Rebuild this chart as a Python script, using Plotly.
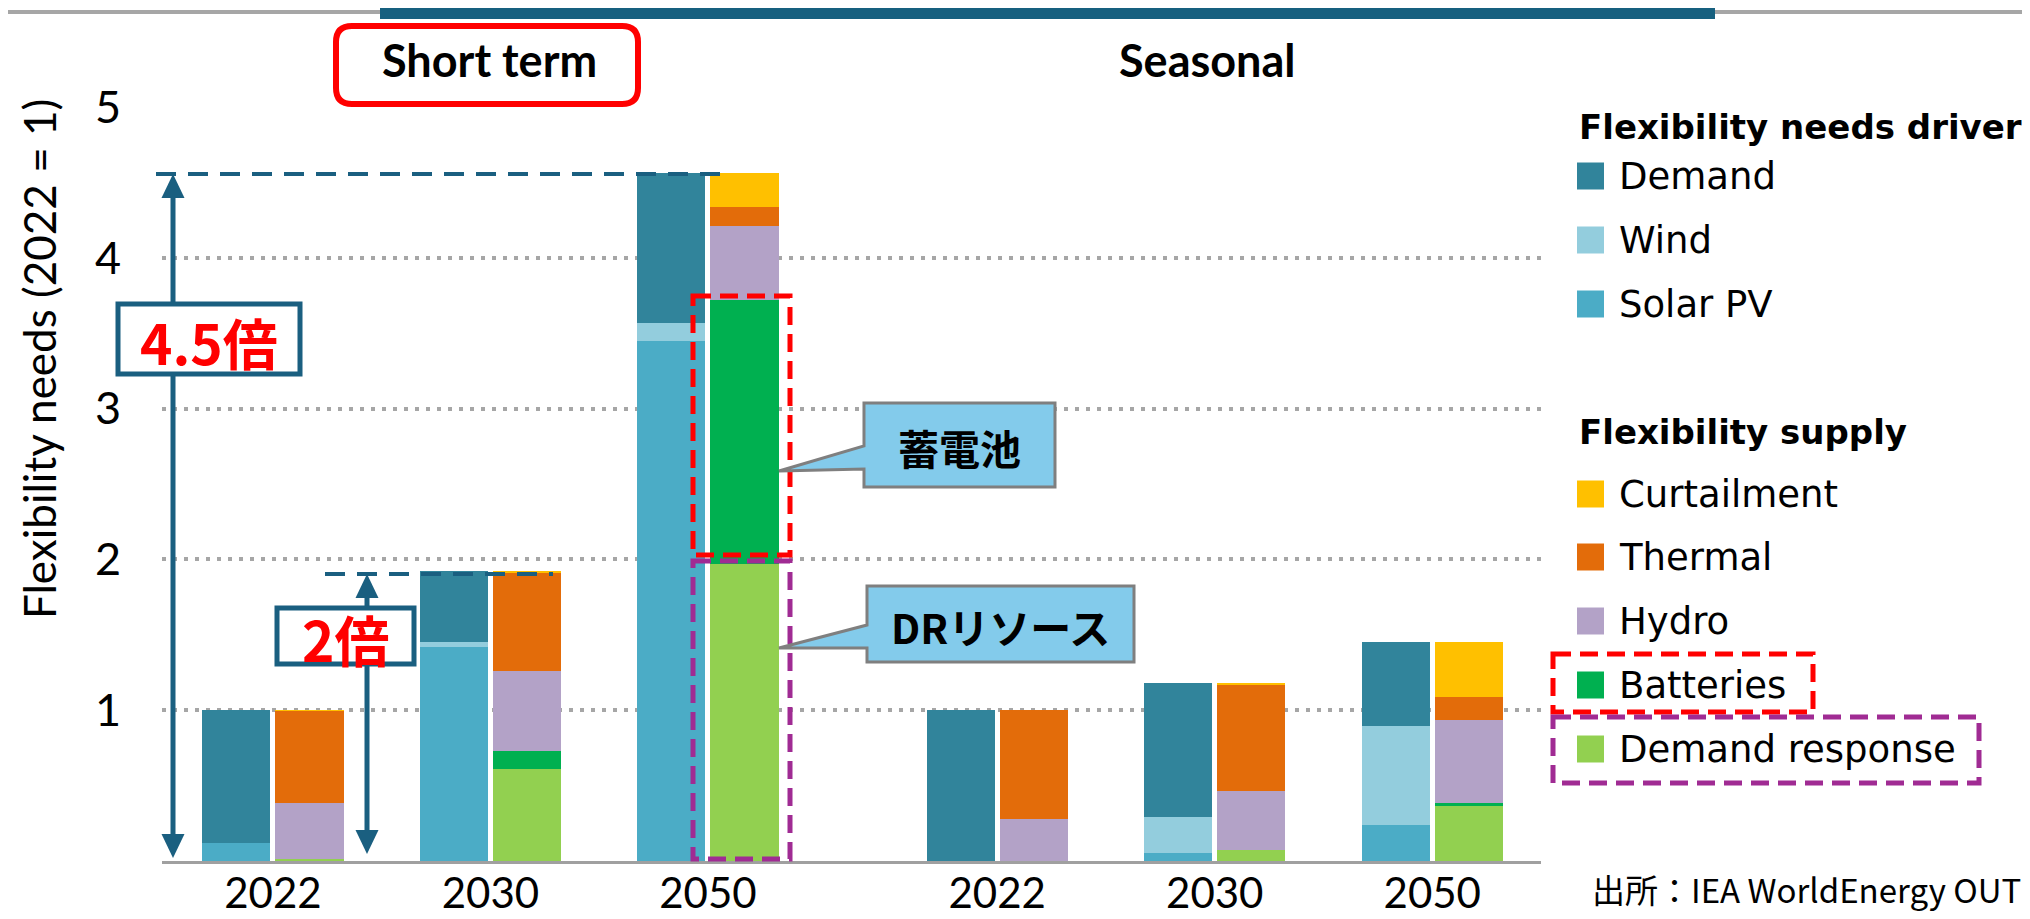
import plotly.graph_objects as go

# categories
HORIZONS = ["Short term", "Short term", "Short term", "Seasonal", "Seasonal", "Seasonal"]
YEARS = ["2022", "2030", "2050", "2022", "2030", "2050"]

# flexibility needs drivers (2022 = 1), stacked bottom -> top
SOLAR_PV = [0.12, 1.42, 3.45, 0.0, 0.055, 0.24]
WIND = [0.0, 0.03, 0.12, 0.0, 0.235, 0.655]
DEMAND = [0.88, 0.47, 0.99, 1.00, 0.89, 0.555]

# flexibility supply, stacked bottom -> top
DEMAND_RESPONSE = [0.01, 0.61, 1.97, 0.0, 0.07, 0.365]
BATTERIES = [0.0, 0.12, 1.75, 0.0, 0.0, 0.018]
HYDRO = [0.375, 0.53, 0.49, 0.28, 0.395, 0.55]
THERMAL = [0.61, 0.65, 0.125, 0.72, 0.70, 0.155]
CURTAILMENT = [0.005, 0.01, 0.225, 0.0, 0.015, 0.362]

Y_TICKS = [1, 2, 3, 4, 5]

COLORS = {
    'Demand': '#31849B',
    'Wind': '#93CDDD',
    'Solar PV': '#4BACC6',
    'Curtailment': '#FFC000',
    'Thermal': '#E36C0A',
    'Hydro': '#B3A2C7',
    'Batteries': '#00B050',
    'Demand response': '#92D050',
}
NAVY = '#1a5f80'

# page pixels; the page body adds an 8px margin, so the figure is shifted back by it
PAGE_W, PAGE_H = 2030, 919
OFS = 8
W, H = PAGE_W - OFS, PAGE_H - OFS
L, R, T, B = 162, 1541, 107, 861   # plot area in page pixels
GROUP_X = [0, 1, 2, 3.33, 4.33, 5.33]
X_RANGE = [-0.51, 5.83]
BAR_W = 0.313
OFF = 0.168


def px(x):
    return (x - L) / (R - L)


def py(y):
    return (B - y) / (B - T)


fig = go.Figure()

needs = [('Solar PV', SOLAR_PV), ('Wind', WIND), ('Demand', DEMAND)]
supply = [('Demand response', DEMAND_RESPONSE), ('Batteries', BATTERIES), ('Hydro', HYDRO),
          ('Thermal', THERMAL), ('Curtailment', CURTAILMENT)]

for name, vals in needs:
    fig.add_trace(go.Bar(
        x=[g - OFF for g in GROUP_X], y=vals, name=name, width=BAR_W,
        marker=dict(color=COLORS[name], line=dict(width=0)), showlegend=False
    ))
for name, vals in supply:
    fig.add_trace(go.Bar(
        x=[g + OFF for g in GROUP_X], y=vals, name=name, width=BAR_W,
        marker=dict(color=COLORS[name], line=dict(width=0)), showlegend=False
    ))

shapes = []
annotations = []


def rect(x0, y0, x1, y1, **kw):
    shapes.append(dict(type='rect', xref='paper', yref='paper',
                       x0=px(x0), x1=px(x1), y0=py(y0), y1=py(y1), **kw))


def line(x0, y0, x1, y1, **kw):
    shapes.append(dict(type='line', xref='paper', yref='paper',
                       x0=px(x0), x1=px(x1), y0=py(y0), y1=py(y1), **kw))


def poly(points, **kw):
    d = 'M ' + ' L '.join(f'{px(x):.5f},{py(y):.5f}' for x, y in points) + ' Z'
    shapes.append(dict(type='path', xref='paper', yref='paper', path=d, **kw))


def text(x, y, s, size, color='black', family='Lato', xanchor='center'):
    annotations.append(dict(x=px(x), y=py(y), xref='paper', yref='paper', text=s,
                            showarrow=False, xanchor=xanchor, yanchor='middle',
                            font=dict(size=size, color=color, family=family)))


# top banner
line(0, 12, PAGE_W + 10, 12, line=dict(color='#A6A6A6', width=4))
rect(380, -2, 1715, 19, fillcolor='#17607F', line=dict(width=0))

# section headers, red rounded box round "Short term"
r = 16
x0, x1, y0, y1 = 336, 638, 26, 104
P = lambda x, y: f'{px(x):.5f},{py(y):.5f}'
path = (f'M {P(x0 + r, y0)} L {P(x1 - r, y0)} Q {P(x1, y0)} {P(x1, y0 + r)} '
        f'L {P(x1, y1 - r)} Q {P(x1, y1)} {P(x1 - r, y1)} L {P(x0 + r, y1)} '
        f'Q {P(x0, y1)} {P(x0, y1 - r)} L {P(x0, y0 + r)} Q {P(x0, y0)} {P(x0 + r, y0)} Z')
shapes.append(dict(type='path', xref='paper', yref='paper', path=path,
                   line=dict(color='#FF0000', width=6)))
text(489, 60, '<b>Short term</b>', 45)
text(1207, 60, '<b>Seasonal</b>', 45)


def double_arrow(x, ytop, ybot, box, label, lx0, lx1):
    line(lx0, ytop, lx1, ytop, line=dict(color=NAVY, width=4, dash='20px,12px'))
    line(x, ytop + 20, x, ybot - 20, line=dict(color=NAVY, width=5))
    poly([(x, ytop), (x - 11.5, ytop + 24), (x + 11.5, ytop + 24)], fillcolor=NAVY, line=dict(width=0))
    poly([(x, ybot), (x - 11.5, ybot - 24), (x + 11.5, ybot - 24)], fillcolor=NAVY, line=dict(width=0))
    bx0, by0, bx1, by1 = box
    rect(bx0, by0, bx1, by1, fillcolor='white', line=dict(color=NAVY, width=5))
    text((bx0 + bx1) / 2, (by0 + by1) / 2 + 2, f'<b>{label}</b>', 55, '#FF0000', 'Noto Sans CJK JP')


double_arrow(173, 174, 858, (118, 304, 300, 374), '4.5倍', 156, 722)
double_arrow(367, 574, 854, (277, 608, 414, 664), '2倍', 325, 553)

# dashed highlight boxes on the 2050 supply bar
rect(693, 296, 790, 555, line=dict(color='#FF0000', width=5, dash='18px,9px'))
rect(693, 561, 790, 859, line=dict(color='#A02B93', width=5, dash='18px,9px'))


def callout(box, tip, base, label):
    bx0, by0, bx1, by1 = box
    poly([(bx0, by0), (bx1, by0), (bx1, by1), (bx0, by1), (bx0, base[1]), tip, (bx0, base[0])],
         fillcolor='#83CBEB', line=dict(color='#7F7F7F', width=3))
    text((bx0 + bx1) / 2, (by0 + by1) / 2 + 2, f'<b>{label}</b>', 41, 'black', 'Noto Sans CJK JP')


callout((864, 403, 1055, 487), (779, 471), (446, 469), '蓄電池')
callout((867, 586, 1134, 662), (779, 648), (625, 648), 'DRリソース')

# y-axis title
annotations.append(dict(x=px(39), y=py(359), xref='paper', yref='paper', text='Flexibility needs (2022 = 1)',
                        textangle=-90, showarrow=False, xanchor='center', yanchor='middle',
                        font=dict(size=44, family='Lato', color='black')))

# legend
LEG_X = 1577
SW = 27
text(LEG_X, 127, '<b>Flexibility needs driver</b>', 34, family='DejaVu Sans', xanchor='left')
text(LEG_X, 432, '<b>Flexibility supply</b>', 34, family='DejaVu Sans', xanchor='left')
legend_rows = [('Demand', 176), ('Wind', 240), ('Solar PV', 304), ('Curtailment', 494),
               ('Thermal', 557), ('Hydro', 621), ('Batteries', 685), ('Demand response', 749)]
for name, yc in legend_rows:
    rect(LEG_X, yc - SW / 2, LEG_X + SW, yc + SW / 2, fillcolor=COLORS[name], line=dict(width=0))
    text(LEG_X + 40, yc, name, 37, family='DejaVu Sans', xanchor='left')
rect(1553, 654, 1813, 712, line=dict(color='#FF0000', width=5, dash='18px,9px'))
rect(1553, 717, 1979, 783, line=dict(color='#A02B93', width=5, dash='18px,9px'))

# source
text(1590, 889, '出所：IEA WorldEnergy OUT', 33, family='Noto Sans CJK JP', xanchor='left')

fig.update_layout(
    width=W, height=H,
    barmode='stack',
    paper_bgcolor='white', plot_bgcolor='white',
    margin=dict(l=L - OFS, r=W - (R - OFS), t=T - OFS, b=H - (B - OFS), pad=0, autoexpand=False),
    font=dict(family='Lato', color='black'),
    showlegend=False,
    shapes=shapes,
    annotations=annotations,
    xaxis=dict(range=X_RANGE, tickvals=GROUP_X, ticktext=YEARS, showgrid=False, zeroline=False,
               showline=True, linecolor='#A0A0A0', linewidth=3, ticks='', automargin=False,
               tickfont=dict(size=42, family='Lato', color='black'), ticklabelstandoff=-6),
    yaxis=dict(range=[0, 5], tickvals=Y_TICKS, showgrid=True, gridcolor='#A6A6A6', gridwidth=4,
               griddash='4px,7px', zeroline=False, showline=False, ticks='', automargin=False,
               tickfont=dict(size=45, family='Lato', color='black'), ticklabelstandoff=40),
)

fig.write_html("out.html")
